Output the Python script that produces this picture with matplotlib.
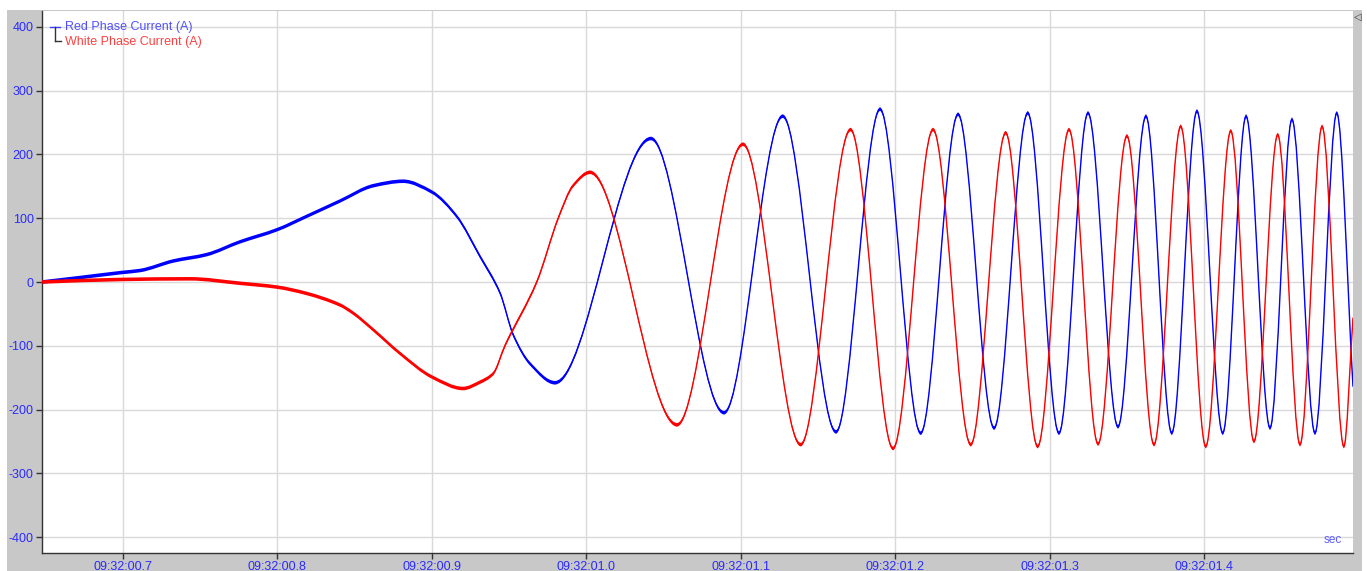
import numpy as np
import matplotlib
matplotlib.use("Agg")
import matplotlib.pyplot as plt
from matplotlib.path import Path
from matplotlib.patches import PathPatch, Rectangle
from matplotlib.lines import Line2D

plt.rcParams['font.family'] = ['Liberation Sans', 'DejaVu Sans']
plt.rcParams['axes.unicode_minus'] = False

# ---- data (time = seconds after 09:32:00, current in A) ----
red_phase_t = [0.6478, 0.6724, 0.6997, 0.7112, 0.7328, 0.7544, 0.7759, 0.7999,
               0.8191, 0.8406, 0.8622, 0.8816, 0.9002, 0.9162, 0.9313, 0.9442,
               0.9528, 0.9636, 0.9798, 1.0419, 1.0892, 1.1272, 1.1617, 1.1902,
               1.2165, 1.2407, 1.2640, 1.2858, 1.3060, 1.3248, 1.3442, 1.3623,
               1.3790, 1.3953, 1.4120, 1.4271, 1.4426, 1.4568, 1.4717, 1.4858,
               1.4963]
red_phase_a = [0, 7, 15, 18, 33, 43, 63, 82,
               103, 127, 151, 158, 141, 103, 40, -17,
               -83, -128, -158, 225, -205, 260, -235, 271,
               -237, 263, -229, 265, -237, 265, -227, 260,
               -237, 268, -237, 260, -229, 255, -237, 265,
               -164]

white_phase_t = [0.6478, 0.6995, 0.7436, 0.7759, 0.7999, 0.8191, 0.8406, 0.8493,
                 0.8622, 0.8795, 0.9002, 0.9203, 0.9313, 0.9397, 0.9474, 0.9680,
                 0.9819, 0.9915, 1.0025, 1.0588, 1.1015, 1.1388, 1.1711, 1.1986,
                 1.2245, 1.2489, 1.2715, 1.2922, 1.3125, 1.3313, 1.3500, 1.3675,
                 1.3848, 1.4010, 1.4172, 1.4322, 1.4476, 1.4620, 1.4763, 1.4904,
                 1.4963]
white_phase_a = [0, 4, 5, -2, -8, -18, -36, -49,
                 -75, -112, -149, -167, -157, -144, -100, 0,
                 100, 151, 172, -224, 216, -255, 239, -261,
                 239, -255, 234, -258, 239, -254, 229, -255,
                 244, -258, 237, -250, 231, -255, 244, -258,
                 -56]

series_names = ['Red Phase Current (A)', 'White Phase Current (A)']
x_ticks = [0.7, 0.8, 0.9, 1.0, 1.1, 1.2, 1.3, 1.4]
x_tick_labels = ['09:32:00.7', '09:32:00.8', '09:32:00.9', '09:32:01.0',
                 '09:32:01.1', '09:32:01.2', '09:32:01.3', '09:32:01.4']
y_ticks = [-400, -300, -200, -100, 0, 100, 200, 300, 400]
x_range = (0.64777, 1.49631)
y_range = (-425, 425)

NOISE_HALF_BAND = 2.8   # visual half-thickness of the noisy trace (A)


def hermite_verts(t, v):
    """Monotone cubic Hermite curve through the read points, as Bezier vertices."""
    t = np.asarray(t, float)
    v = np.asarray(v, float)
    d = np.diff(v) / np.diff(t)
    m = np.zeros_like(v)
    m[0] = d[0]
    m[-1] = d[-1]
    for i in range(1, len(v) - 1):
        if d[i - 1] * d[i] > 0:
            m[i] = 2.0 / (1.0 / d[i - 1] + 1.0 / d[i])
        else:
            m[i] = 0.0
    verts = [(t[0], v[0])]
    for i in range(len(t) - 1):
        h = t[i + 1] - t[i]
        verts += [(t[i] + h / 3, v[i] + m[i] * h / 3),
                  (t[i + 1] - h / 3, v[i + 1] - m[i + 1] * h / 3),
                  (t[i + 1], v[i + 1])]
    return np.array(verts)


def band_path(t, v, half):
    """Closed band made of the curve shifted up and down (noise envelope)."""
    base = hermite_verts(t, v)
    upper = base + np.array([0.0, half])
    lower = (base - np.array([0.0, half]))[::-1]
    n = len(base)
    verts = np.vstack([upper, lower, upper[:1]])
    codes = ([Path.MOVETO] + [Path.CURVE4] * (n - 1) +
             [Path.LINETO] + [Path.CURVE4] * (n - 1) + [Path.CLOSEPOLY])
    return Path(verts, codes)


def line_path(t, v):
    base = hermite_verts(t, v)
    codes = [Path.MOVETO] + [Path.CURVE4] * (len(base) - 1)
    return Path(base, codes)


W, H = 1367, 571
fig = plt.figure(figsize=(W / 100, H / 100), dpi=100, facecolor='white')

# grey frame around the plot area (behind the axes)
fig.patches.append(Rectangle((7 / W, 0), (1362 - 7) / W, (H - 10) / H,
                             transform=fig.transFigure, facecolor='#c8c8c8',
                             edgecolor='none', zorder=-10))

left, right, top, bottom = 42, 1353, 11, 553
ax = fig.add_axes([left / W, 1 - bottom / H, (right - left) / W, (bottom - top) / H])
ax.set_zorder(1)
ax.set_facecolor('white')
ax.set_xlim(*x_range)
ax.set_ylim(*y_range)

ax.set_xticks(x_ticks)
ax.set_xticklabels(x_tick_labels)
ax.set_yticks(y_ticks)
ax.set_yticklabels([str(v) for v in y_ticks])
ax.grid(True, color='#d9d9d9', linewidth=1.0)
ax.set_axisbelow(True)

for s in ['top', 'right']:
    ax.spines[s].set_visible(False)
for s in ['left', 'bottom']:
    ax.spines[s].set_color('#333333')
    ax.spines[s].set_linewidth(1.0)

ax.tick_params(axis='both', direction='out', length=4, width=1, color='#333333',
               labelcolor='#2a2aff', labelsize=9, pad=2)

colors = ['#0000ff', '#ff0000']
for (tt, vv), c in zip([(red_phase_t, red_phase_a), (white_phase_t, white_phase_a)], colors):
    ax.add_patch(PathPatch(band_path(tt, vv, NOISE_HALF_BAND), facecolor=c,
                           edgecolor='none', zorder=3))
    ax.add_patch(PathPatch(line_path(tt, vv), facecolor='none', edgecolor=c,
                           linewidth=1.0, zorder=3))

# legend (bracket + labels)
legend_colors = ['#5050ff', '#ff4040']
fig.add_artist(Line2D([50 / W, 60 / W], [1 - 26.5 / H, 1 - 26.5 / H],
                      color='#4040ff', linewidth=1.0, transform=fig.transFigure, zorder=5))
fig.add_artist(Line2D([55 / W, 55 / W], [1 - 26.5 / H, 1 - 41 / H],
                      color='#333333', linewidth=1.0, transform=fig.transFigure, zorder=5))
fig.add_artist(Line2D([55 / W, 61 / W], [1 - 41 / H, 1 - 41 / H],
                      color='#333333', linewidth=1.0, transform=fig.transFigure, zorder=5))
for i, (name, c) in enumerate(zip(series_names, legend_colors)):
    fig.text(65 / W, 1 - (27 + 15 * i) / H, name, color=c, fontsize=9,
             ha='left', va='center', zorder=5)

fig.text(1342 / W, 1 - 540 / H, 'sec', color='#6060ff', fontsize=8.5,
         ha='right', va='center', zorder=5)
fig.text(1358 / W, 1 - 17 / H, '\u25c1', color='#333333', fontsize=7,
         ha='center', va='center', family=['DejaVu Sans'], zorder=5)

fig.savefig('out.png', dpi=100, facecolor=fig.get_facecolor())
